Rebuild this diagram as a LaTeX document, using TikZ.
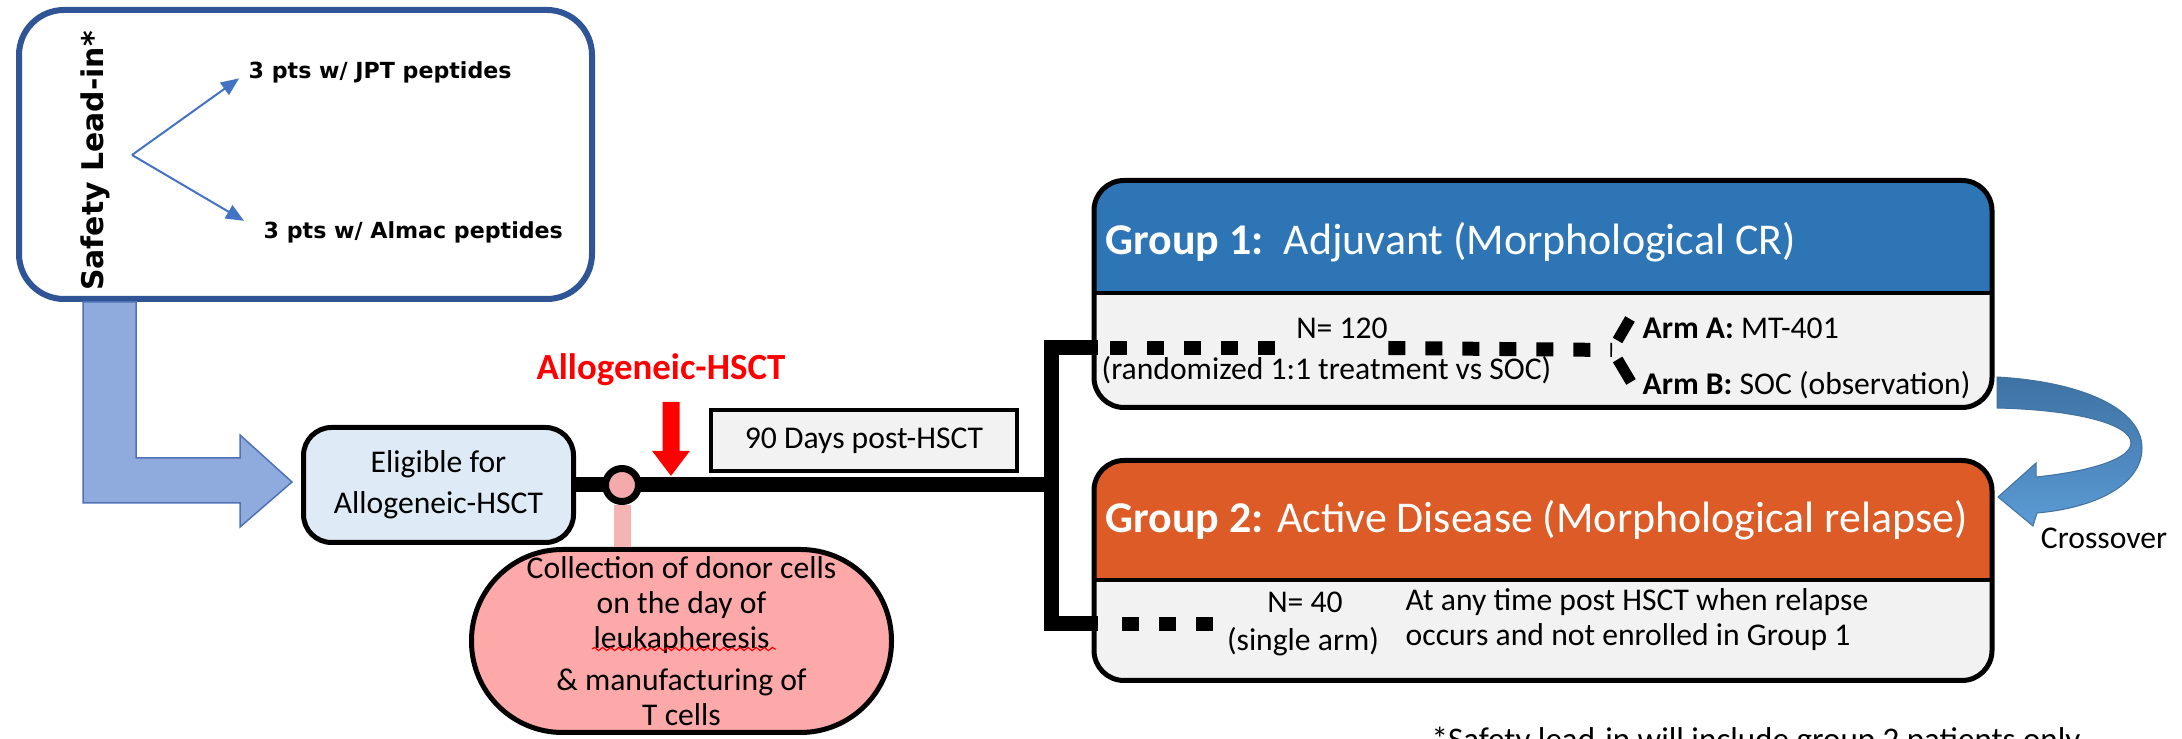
\documentclass[tikz,border=0pt]{standalone}
\usepackage{fontspec}
\setmainfont{Carlito}
\newfontfamily\leadfont{DejaVu Sans}
\usetikzlibrary{positioning,arrows.meta,decorations.pathmorphing}

\definecolor{leadblue}{HTML}{2F5597}
\definecolor{splitblue}{HTML}{4472C4}
\definecolor{bigblue}{HTML}{8FAADC}
\definecolor{bigedge}{HTML}{4F72B5}
\definecolor{eligfill}{HTML}{DEEBF7}
\definecolor{panel}{HTML}{F2F2F2}
\definecolor{donorpink}{HTML}{F4AAAA}
\definecolor{linkpink}{HTML}{F6B3B3}
\definecolor{pillpink}{HTML}{FDA9A9}
\definecolor{headblue}{HTML}{2E75B6}
\definecolor{headorange}{HTML}{DC5B26}
\definecolor{crossdark}{HTML}{3E72A4}
\definecolor{crosslight}{HTML}{5B9BD5}
\definecolor{crossedge}{HTML}{41719C}

\begin{document}
\begin{tikzpicture}[x=0.1mm, y=-0.1mm,
        bodytext/.style={font=\fontsize{9}{10}\selectfont, inner sep=0pt},
        leadbox/.style={draw=leadblue, line width=0.6mm, rounded corners=4.5mm,
                        minimum width=57.3mm, minimum height=28.9mm},
        pts/.style={font=\leadfont\bfseries\fontsize{6.3}{7}\selectfont, anchor=west, inner sep=0pt},
        splitarr/.style={splitblue, line width=0.2mm, -{Triangle[length=1.8mm,width=1.5mm]}},
        bigarrow/.style={fill=bigblue, draw=bigedge, line width=0.15mm},
        eligbox/.style={draw, line width=0.5mm, rounded corners=2.8mm, fill=eligfill,
                        minimum width=27mm, minimum height=11.5mm, align=center,
                        font=\fontsize{9}{11.7}\selectfont},
        daybox/.style={draw, line width=0.4mm, fill=panel, minimum width=30.6mm,
                       minimum height=6.1mm, font=\fontsize{9}{10}\selectfont},
        trunk/.style={line width=1.5mm},
        donor/.style={circle, draw, line width=0.7mm, fill=donorpink, minimum size=3.3mm, inner sep=0pt},
        linkline/.style={linkpink, line width=1.7mm},
        pill/.style={draw, line width=0.5mm, fill=pillpink, rounded corners=9.1mm,
                     minimum width=42mm, minimum height=18.3mm, align=center,
                     font=\fontsize{9}{10}\selectfont, inner sep=0pt},
        hsctlabel/.style={text=red, font=\bfseries\fontsize{10.5}{12}\selectfont, inner sep=0pt},
        redarrow/.style={red, line width=1.7mm, -{Triangle[length=2.5mm,width=3.6mm]}},
        groupbox/.style 2 args={draw, line width=0.5mm, rounded corners=3mm, fill=panel,
                     minimum width=89.8mm, inner sep=0pt,
                     path picture={
                        \fill[#1, sharp corners] (path picture bounding box.north west)
                            rectangle ([yshift=-#2]path picture bounding box.north east);
                        \draw[line width=0.45mm, sharp corners] ([yshift=-#2]path picture bounding box.north west)
                            -- ([yshift=-#2]path picture bounding box.north east);}},
        grouptitle/.style={text=white, anchor=west, inner sep=0pt, font=\fontsize{12.5}{15}\selectfont},
        dotline/.style={line width=1.4mm, dash pattern=on 1.7mm off 2mm},
        forkline/.style={line width=1.1mm, shorten <=1.1mm},
        crossarrow/.style={top color=crossdark, bottom color=crosslight, draw=crossedge, line width=0.1mm},
    ]
    \path[use as bounding box, fill=white] (0,0) rectangle (2182,739);

    % --- Safety lead-in ---
    \node[leadbox] (lead) at (305.5,154.5) {};
    \node[rotate=90, font=\leadfont\bfseries\fontsize{8.5}{10}\selectfont, inner sep=0pt] (leadtitle) at (95,161) {Safety Lead-in*};
    \coordinate (fork0) at (132,155);
    \node[pts] (jpt) at (248,72) {3 pts w/ JPT peptides};
    \node[pts] (almac) at (263,232) {3 pts w/ Almac peptides};
    \draw[splitarr, shorten >=1.1mm] (fork0) -- (jpt.west);
    \draw[splitarr, shorten >=2.2mm] (fork0) -- (almac.west);

    % --- Eligibility and transplant ---
    \node[eligbox] (elig) at (438.5,485) {Eligible for\\Allogeneic-HSCT};
    \path[bigarrow] (83,302) -- (83,503) -- (240,503) -- (240,527)
        -- ([xshift=-0.9mm,yshift=0.3mm]elig.west) -- (240,435) -- (240,458)
        -- (136,458) -- (136,302) -- cycle;
    \node[hsctlabel] (hsct) at (661,370) {Allogeneic-HSCT};
    \node[daybox] (days) at (864,440.5) {90 Days post-HSCT};

    \coordinate (busN) at (1051,348);
    \coordinate (busS) at (1051,624);
    \draw[trunk] (elig.east) -- (elig.east -| busN);
    \coordinate (hsctday) at (671,476);
    \draw[redarrow] ([xshift=1mm,yshift=-1.5mm]hsct.south) -- (hsctday);

    \node[donor] (donor) at (622,485) {};
    \node[pill] (pill) at (681.5,641) {Collection of donor cells\\on the day of\\leukapheresis\\[2pt]\& manufacturing of\\T cells};
    \draw[linkline] (donor.south) -- (donor.south |- pill.north);
    \draw[red, line width=0.12mm, decorate, decoration={snake, amplitude=0.45pt, segment length=2.3pt}] (592,649) -- (776,649);

    % --- Group 1 ---
    \node[groupbox={headblue}{11.25mm}, minimum height=22.7mm] (g1) at (1543,294) {};
    \node[grouptitle] (g1title) at (1105,242) {\textbf{Group 1:}\ \ Adjuvant (Morphological CR)};
    \node[bodytext] (n120) at (1342,328) {N= 120};
    \node[bodytext, anchor=west] (rand) at (1101,370) {(randomized 1:1 treatment vs SOC)};
    \node[bodytext, anchor=west] (armA) at (1642,328) {\textbf{Arm A:} MT-401};
    \node[bodytext, anchor=west] (armB) at (1642,385) {\textbf{Arm B:} SOC (observation)};

    % --- Group 2 ---
    \node[groupbox={headorange}{11.95mm}, minimum height=22mm] (g2) at (1543,570.5) {};
    \node[grouptitle] (g2title) at (1105,520) {\textbf{Group 2:} Active Disease (Morphological relapse)};
    \node[bodytext] (n40) at (1305,602) {N= 40};
    \node[bodytext] (single) at (1303,642) {(single arm)};
    \node[bodytext, anchor=west, align=left] (relapse) at (1405,620) {At any time post HSCT when relapse\\occurs and not enrolled in Group 1};

    % --- Branches ---
    \draw[trunk] ([xshift=0.6mm]g1.west |- busN) -- (busN) -- (busS) -- ([xshift=0.6mm]g2.west |- busS);
    \coordinate (g1in) at (1110,348);
    \coordinate (armfork) at (1612,350);
    \coordinate (armAtip) at (1630,319);
    \coordinate (armBtip) at (1631,382);
    \draw[dotline] (g1in) -- ([xshift=-1.5mm]n120.west |- g1in);
    \draw[dotline] (n120.east |- g1in) -- (armfork);
    \draw[forkline] (armfork) -- (armAtip);
    \draw[forkline] (armfork) -- (armBtip);
    \coordinate (g2in) at (1122,624);
    \draw[dotline] (g2in) -- ([xshift=-5mm]n40.west |- g2in);

    % --- Crossover ---
    \path[crossarrow] (1997,377) .. controls (2085,382) and (2142,410) .. (2142,448)
        .. controls (2142,485) and (2095,508) .. (2037,513) -- (2033,526) -- (1998,497)
        -- (2036,463) -- (2036,477) .. controls (2085,472) and (2131,460) .. (2131,443)
        .. controls (2131,425) and (2080,410) .. (1997,408) -- cycle;
    \node[bodytext] (cross) at (2104,538) {Crossover};

    % --- Footnote ---
    \begin{scope}
        \clip (0,0) rectangle (2182,739);
        \node[anchor=base west, inner sep=0pt, font=\fontsize{9.4}{11}\selectfont] (note) at (1431,751) {*Safety lead-in will include group 2 patients only};
    \end{scope}
\end{tikzpicture}
\end{document}
